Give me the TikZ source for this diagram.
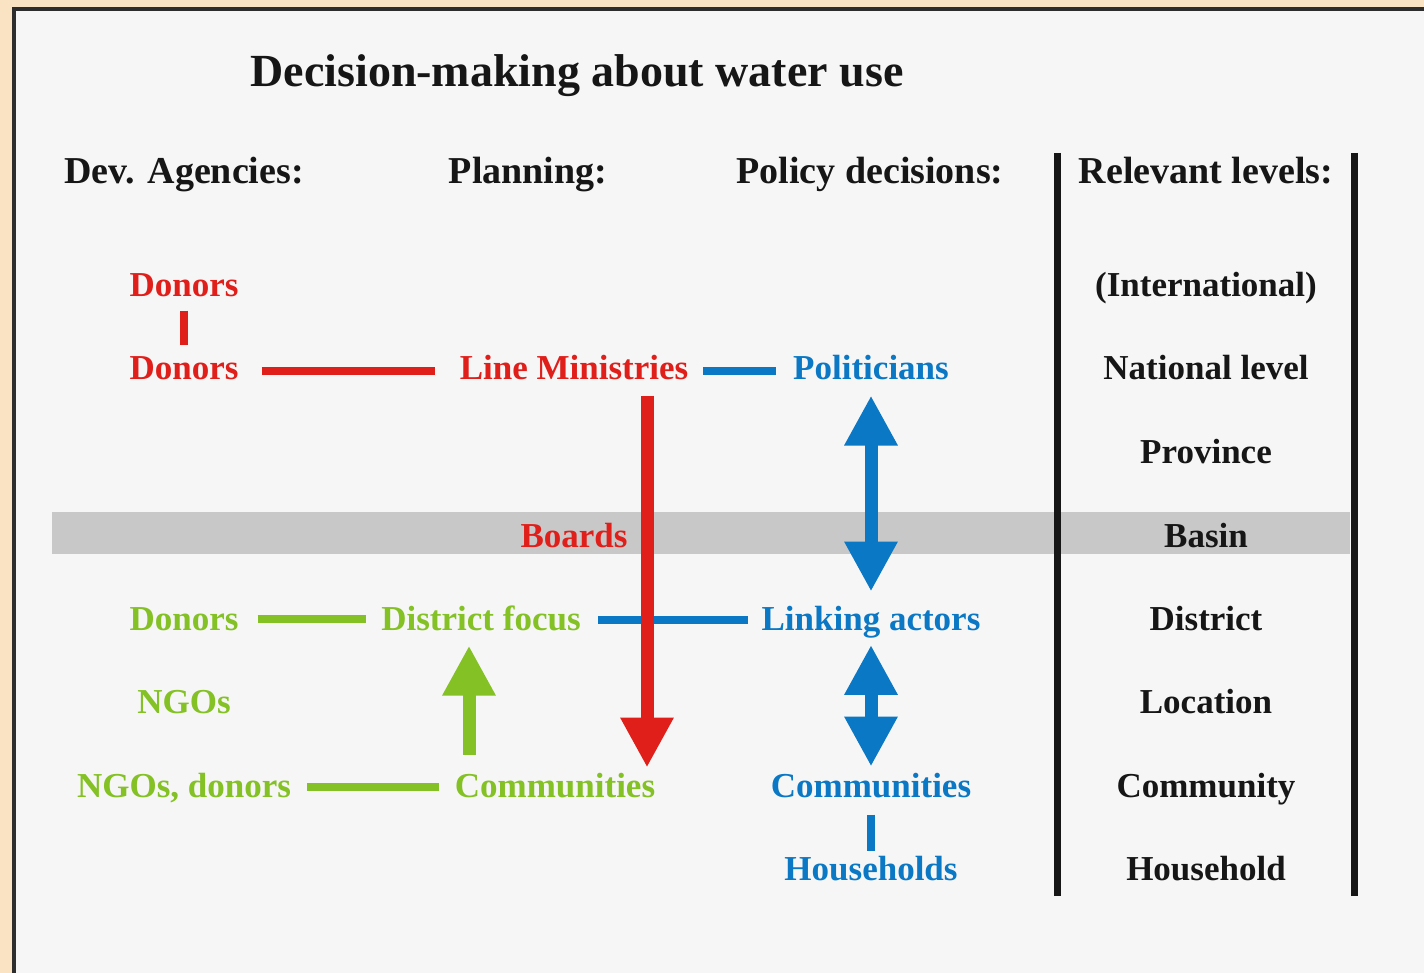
\documentclass[tikz,border=0pt]{standalone}
\usepackage{fontspec}
\setmainfont{Liberation Serif}
\usetikzlibrary{arrows.meta}
\definecolor{cred}{HTML}{E01F1B}
\definecolor{cgreen}{HTML}{84C124}
\definecolor{cblue}{HTML}{0A78C4}
\definecolor{cblack}{HTML}{161616}
\definecolor{beige}{HTML}{F9E3C3}
\definecolor{paper}{HTML}{F6F6F6}
\definecolor{band}{HTML}{C8C8C8}
\tikzset{
  lbl/.style={anchor=base, inner sep=0pt, font=\bfseries\fontsize{35}{40}\selectfont},
  ttl/.style={anchor=base, inner sep=0pt, font=\bfseries\fontsize{46}{52}\selectfont, text=cblack},
  hdr/.style={anchor=base, inner sep=0pt, font=\bfseries\fontsize{38}{44}\selectfont, text=cblack},
  rtxt/.style={lbl, text=cred},
  gtxt/.style={lbl, text=cgreen},
  btxt/.style={lbl, text=cblue},
  ktxt/.style={lbl, text=cblack},
  link/.style={line width=8pt},
  bigarrow/.style={line width=13pt, -{Triangle[width=50pt,length=50pt]}},
  bigdouble/.style={line width=13pt, {Triangle[width=50pt,length=50pt]}-{Triangle[width=50pt,length=50pt]}},
}
\begin{document}
\begin{tikzpicture}[x=1pt,y=-1pt]
\useasboundingbox (0,0) rectangle (1424,973);
\fill[beige] (0,0) rectangle (1424,973);
\fill[paper] (14,9) rectangle (1430,980);
\draw[line width=4pt, cblack!90] (14,9) -- (14,980);
\draw[line width=4pt, cblack!90] (12,9) -- (1430,9);
% basin band
\fill[band] (52,512) rectangle (1350,554);
% level column rules
\draw[line width=7pt, cblack] (1057,153) -- (1057,896);
\draw[line width=7pt, cblack] (1354,153) -- (1354,896);

% title and headers
\node[ttl] (title) at (577,87) {Decision-making about water use};
\node[hdr] (h1) at (184,184) {Dev. Agencies:};
\node[hdr] (h2) at (528,184) {Planning:};
\node[hdr] (h3) at (870,184) {Policy decisions:};
\node[hdr] (h4) at (1206,184) {Relevant levels:};

% levels
\node[ktxt] (l1) at (1206,297) {(International)};
\node[ktxt] (l2) at (1206,380) {National level};
\node[ktxt] (l3) at (1206,463) {Province};
\node[ktxt] (l4) at (1206,547) {Basin};
\node[ktxt] (l5) at (1206,630) {District};
\node[ktxt] (l6) at (1206,713) {Location};
\node[ktxt] (l7) at (1206,797) {Community};
\node[ktxt] (l8) at (1206,880) {Household};

% red
\node[rtxt] (d1) at (184,297) {Donors};
\node[rtxt] (d2) at (184,380) {Donors};
\node[rtxt] (lm) at (574,380) {Line Ministries};
\node[rtxt] (boards) at (574,547) {Boards};
% blue
\node[btxt] (pol) at (871,380) {Politicians};
\node[btxt] (la) at (871,630) {Linking actors};
\node[btxt] (comb) at (871,797) {Communities};
\node[btxt] (hh) at (871,880) {Households};
% green
\node[gtxt] (dg) at (184,630) {Donors};
\node[gtxt] (df) at (481,630) {District focus};
\node[gtxt] (ngo) at (184,713) {NGOs};
\node[gtxt] (ngd) at (184,797) {NGOs, donors};
\node[gtxt] (comg) at (555,797) {Communities};

\coordinate (rx) at (647,0);
\coordinate (gx) at (469,0);

% connectors
\draw[link, cred, shorten <=13pt, shorten >=12pt] (d1.south) -- (d2.north);
\draw[link, cred, shorten <=23pt, shorten >=25pt] ([yshift=9pt]d2.base east) -- ([yshift=9pt]lm.base west);
\draw[link, cblue, shorten <=15pt, shorten >=17pt] ([yshift=9pt]lm.base east) -- ([yshift=9pt]pol.base west);
\draw[link, cgreen, shorten <=19pt, shorten >=15pt] ([yshift=11pt]dg.base east) -- ([yshift=11pt]df.base west);
\draw[link, cgreen, shorten <=16pt, shorten >=16pt] ([yshift=10.5pt]ngd.base east) -- ([yshift=10.5pt]comg.base west);
\draw[link, cblue, shorten <=17pt, shorten >=13pt] ([yshift=10pt]df.base east) -- ([yshift=10pt]la.base west);
\draw[link, cblue, shorten <=17pt, shorten >=5pt] (comb.south) -- (hh.north);

\draw[bigarrow, cred, shorten <=15pt, shorten >=5pt] (lm.south -| rx) -- (comg.north -| rx);
\draw[bigarrow, cgreen, shorten <=18pt, shorten >=15pt] (comg.north -| gx) -- (df.south -| gx);
\draw[bigdouble, cblue, shorten <=15pt, shorten >=14pt] (pol.south) -- (la.north);
\draw[bigdouble, cblue, shorten <=7pt, shorten >=6pt] (la.south) -- (comb.north);
\end{tikzpicture}
\end{document}
